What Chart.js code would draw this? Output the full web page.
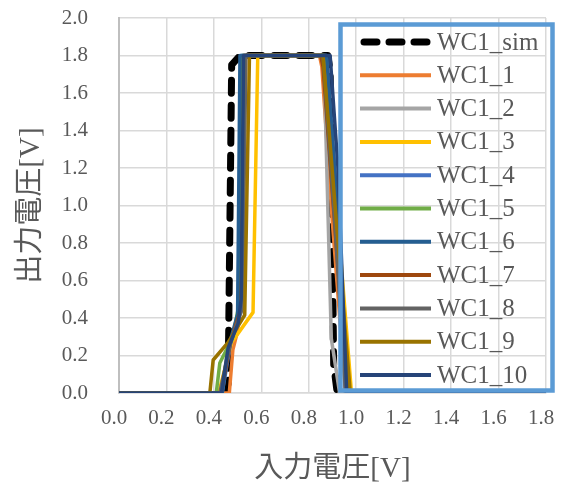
<!DOCTYPE html>
<html>
<head>
<meta charset="utf-8">
<script src="https://cdn.jsdelivr.net/npm/chart.js@4.4.1/dist/chart.umd.min.js"></script>
<style>html,body{margin:0;padding:0;background:#fff}</style>
</head>
<body>
<canvas id="c" width="564" height="484"></canvas>
<script>
// [入力電圧, 出力電圧] pairs
const seriesNames = ['WC1_sim','WC1_1','WC1_2','WC1_3','WC1_4','WC1_5','WC1_6','WC1_7','WC1_8','WC1_9','WC1_10'];
const seriesColors = ['#000000','#ED7D31','#A5A5A5','#FFC000','#4472C4','#70AD47','#255E91','#9E480E','#636363','#997300','#264478'];

// the simulated curve only shows around the two transitions
const wc1Sim = [[0.45,0],[0.46,0.05],[0.475,1.75],[0.51,1.8],[0.88,1.8],[0.89,1.72],[0.905,0.15],[0.92,0]];
const wc1_1  = [[0,0],[0.465,0],[0.48,0.23],[0.50,0.33],[0.515,0.55],[0.525,1.8],[0.845,1.8],[0.855,1.74],[0.90,0.9],[0.955,0],[1.8,0]];
const wc1_2  = [[0,0],[0.43,0],[0.46,0.24],[0.50,0.38],[0.52,1.8],[0.855,1.8],[0.865,1.72],[0.895,0.29],[0.93,0],[1.8,0]];
const wc1_3  = [[0,0],[0.42,0],[0.475,0.27],[0.565,0.43],[0.585,1.8],[0.87,1.8],[0.93,0.8],[0.98,0],[1.8,0]];
const wc1_4  = [[0,0],[0.435,0],[0.47,0.26],[0.505,0.4],[0.515,1.8],[0.875,1.8],[0.92,1.0],[0.955,0],[1.8,0]];
const wc1_5  = [[0,0],[0.41,0],[0.425,0.16],[0.48,0.3],[0.51,0.5],[0.52,1.8],[0.865,1.8],[0.915,0.9],[0.96,0],[1.8,0]];
const wc1_6  = [[0,0],[0.435,0],[0.465,0.26],[0.50,0.42],[0.51,1.8],[0.875,1.8],[0.92,1.0],[0.96,0],[1.8,0]];
const wc1_7  = [[0,0],[0.43,0],[0.47,0.27],[0.515,0.45],[0.53,1.8],[0.85,1.8],[0.86,1.74],[0.915,0.8],[0.965,0],[1.8,0]];
const wc1_8  = [[0,0],[0.425,0],[0.47,0.27],[0.52,0.45],[0.535,1.8],[0.86,1.8],[0.91,0.9],[0.955,0],[1.8,0]];
const wc1_9  = [[0,0],[0.383,0],[0.397,0.176],[0.46,0.27],[0.53,0.416],[0.55,1.8],[0.86,1.8],[0.93,0.7],[0.975,0],[1.8,0]];
const wc1_10 = [[0,0],[0.432,0],[0.46,0.24],[0.502,0.37],[0.515,0.5],[0.525,1.8],[0.89,1.8],[0.923,1.2],[0.96,0],[1.8,0]];

const allSeries = [wc1Sim, wc1_1, wc1_2, wc1_3, wc1_4, wc1_5, wc1_6, wc1_7, wc1_8, wc1_9, wc1_10];

const serif = "'Liberation Serif', 'Times New Roman', 'Noto Sans CJK JP', serif";
const textGray = '#595959';

const datasets = allSeries.map((pts, i) => ({
  label: seriesNames[i],
  data: pts.map(p => ({x: p[0], y: p[1]})),
  borderColor: seriesColors[i],
  backgroundColor: seriesColors[i],
  borderWidth: i === 0 ? 7 : 3.5,
  borderDash: i === 0 ? [13, 12] : [],
  borderCapStyle: i === 0 ? 'round' : 'butt',
  borderJoinStyle: 'round',
  pointRadius: 0,
  tension: 0,
  fill: false,
  order: allSeries.length - i   // later series on top, like Excel
}));

// legend drawn by hand: transparent box with a blue frame over the plot
const legendBox = {
  id: 'legendBox',
  afterDatasetsDraw(chart) {
    const ctx = chart.ctx;
    ctx.save();
    ctx.strokeStyle = '#5B9BD5';
    ctx.lineWidth = 4.5;
    ctx.setLineDash([]);
    ctx.strokeRect(340.5, 24.5, 212, 366);
    ctx.font = '25px ' + serif;
    ctx.textBaseline = 'middle';
    ctx.fillStyle = textGray;
    chart.data.datasets.forEach((ds, i) => {
      const y = 42 + i * 33.3;
      ctx.save();
      ctx.strokeStyle = ds.borderColor;
      ctx.lineWidth = i === 0 ? 7 : 4;
      ctx.lineCap = i === 0 ? 'round' : 'butt';
      ctx.setLineDash(i === 0 ? [13, 12] : []);
      ctx.beginPath();
      ctx.moveTo(i === 0 ? 364 : 360, y);
      ctx.lineTo(i === 0 ? 427 : 431, y);
      ctx.stroke();
      ctx.restore();
      ctx.fillText(ds.label, 437, y + 1);
    });
    ctx.restore();
  }
};

new Chart(document.getElementById('c'), {
  type: 'line',
  data: { datasets },
  options: {
    responsive: false,
    animation: false,
    layout: { padding: { left: 0, top: 18, right: 18, bottom: 0 } },
    plugins: { legend: { display: false }, tooltip: { enabled: false } },
    scales: {
      x: {
        type: 'linear',
        min: 0, max: 1.8,
        grid: { color: '#D9D9D9', lineWidth: 1.5, drawTicks: false },
        border: { color: '#D9D9D9', width: 1.5 },
        ticks: {
          stepSize: 0.2,
          padding: 13,
          labelOffset: -5,
          color: textGray,
          font: { family: serif, size: 21 },
          callback: v => v.toFixed(1)
        },
        title: {
          display: true,
          text: '入力電圧[V]',
          color: textGray,
          font: { family: serif, size: 29, lineHeight: 1 },
          padding: { top: 0, bottom: 0 }
        },
        // fixed size; tick padding must not eat into the plot area
        afterFit: s => { s.height = 91; s.paddingLeft = 0; s.paddingRight = 0; }
      },
      y: {
        min: 0, max: 2.0,
        grid: { color: '#D9D9D9', lineWidth: 1.5, drawTicks: false },
        border: { color: '#BFBFBF', width: 2 },
        ticks: {
          stepSize: 0.2,
          padding: 31,
          color: textGray,
          font: { family: serif, size: 21 },
          callback: v => v.toFixed(1)
        },
        title: {
          display: true,
          text: '出力電圧[V]',
          color: textGray,
          font: { family: serif, size: 29, lineHeight: 1 },
          padding: { top: 17, bottom: 0 }
        },
        afterFit: s => { s.width = 119; s.paddingTop = 0; s.paddingBottom = 0; }
      }
    }
  },
  plugins: [legendBox]
});
</script>
</body>
</html>
